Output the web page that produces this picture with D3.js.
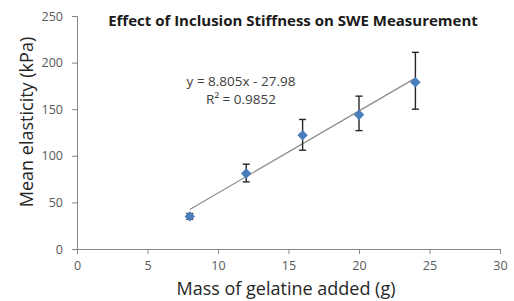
<!DOCTYPE html>
<html>
<head>
<meta charset="utf-8">
<script src="https://cdn.jsdelivr.net/npm/d3@7"></script>
<style>
body { margin: 0; background: #fff; }
text { font-family: "Open Sans", "Liberation Sans", sans-serif; }
</style>
</head>
<body>
<script>
// data
var mass = [8, 12, 16, 20, 24];
var elasticity = [35, 81, 122, 144, 179];
var errLow = [32, 72, 106, 127, 150];
var errHigh = [38, 91, 139, 164, 211];
var xTicks = [0, 5, 10, 15, 20, 25, 30];
var yTicks = [0, 50, 100, 150, 200, 250];
var slope = 8.805, intercept = -27.98;

var W = 514, H = 301;

var svg = d3.select("body").append("svg")
    .attr("width", W)
    .attr("height", H);

var x = d3.scaleLinear().domain([0, 30]).range([77, 500]);
var y = d3.scaleLinear().domain([0, 250]).range([249, 16]);

var axisColor = "#868686";

// x axis
var gx = svg.append("g")
    .attr("transform", "translate(0," + y(0) + ")")
    .call(d3.axisBottom(x).tickValues(xTicks).tickSize(5).tickPadding(7));
gx.select(".domain").attr("stroke", axisColor);
gx.selectAll(".tick line").attr("stroke", axisColor);
gx.selectAll(".tick text").attr("fill", "#595959").style("font-size", "12.5px");

// y axis
var gy = svg.append("g")
    .attr("transform", "translate(" + x(0) + ",0)")
    .call(d3.axisLeft(y).tickValues(yTicks).tickSize(5).tickPadding(9));
gy.select(".domain").attr("stroke", axisColor);
gy.selectAll(".tick line").attr("stroke", axisColor);
gy.selectAll(".tick text").attr("fill", "#595959").style("font-size", "12.5px");

// trend line
svg.append("line")
    .attr("x1", x(8)).attr("y1", y(slope * 8 + intercept))
    .attr("x2", x(24)).attr("y2", y(slope * 24 + intercept))
    .attr("stroke", "#8c8c8c")
    .attr("stroke-width", 1.2);

// error bars
var eb = svg.append("g").selectAll("g")
    .data(mass)
    .enter().append("g");
eb.append("line")
    .attr("x1", function(d) { return x(d); })
    .attr("x2", function(d) { return x(d); })
    .attr("y1", function(d, i) { return y(errLow[i]); })
    .attr("y2", function(d, i) { return y(errHigh[i]); })
    .attr("stroke", "#262626").attr("stroke-width", 1.4);
eb.append("line")
    .attr("x1", function(d) { return x(d) - 3.5; })
    .attr("x2", function(d) { return x(d) + 3.5; })
    .attr("y1", function(d, i) { return y(errLow[i]); })
    .attr("y2", function(d, i) { return y(errLow[i]); })
    .attr("stroke", "#262626").attr("stroke-width", 1.4);
eb.append("line")
    .attr("x1", function(d) { return x(d) - 3.5; })
    .attr("x2", function(d) { return x(d) + 3.5; })
    .attr("y1", function(d, i) { return y(errHigh[i]); })
    .attr("y2", function(d, i) { return y(errHigh[i]); })
    .attr("stroke", "#262626").attr("stroke-width", 1.4);

// markers
svg.append("g").selectAll("path")
    .data(mass)
    .enter().append("path")
    .attr("d", d3.symbol().type(d3.symbolDiamond2).size(70))
    .attr("transform", function(d, i) { return "translate(" + x(d) + "," + y(elasticity[i]) + ")"; })
    .attr("fill", "#4a7ebb");

// equation
svg.append("text")
    .attr("x", 241).attr("y", 86)
    .attr("text-anchor", "middle")
    .attr("fill", "#404040")
    .style("font-size", "13.5px")
    .text("y = 8.805x - 27.98");
svg.append("text")
    .attr("x", 241).attr("y", 104)
    .attr("text-anchor", "middle")
    .attr("fill", "#404040")
    .style("font-size", "13.5px")
    .text("R² = 0.9852");

// title
svg.append("text")
    .attr("x", 293).attr("y", 26)
    .attr("text-anchor", "middle")
    .attr("fill", "#1a1a1a")
    .style("font-size", "15px")
    .style("font-weight", "bold")
    .text("Effect of Inclusion Stiffness on SWE Measurement");

// axis titles
svg.append("text")
    .attr("x", 286).attr("y", 295)
    .attr("text-anchor", "middle")
    .attr("fill", "#262626")
    .style("font-size", "18px")
    .text("Mass of gelatine added (g)");
svg.append("text")
    .attr("transform", "translate(33,122) rotate(-90)")
    .attr("text-anchor", "middle")
    .attr("fill", "#262626")
    .style("font-size", "18px")
    .text("Mean elasticity (kPa)");
</script>
</body>
</html>
